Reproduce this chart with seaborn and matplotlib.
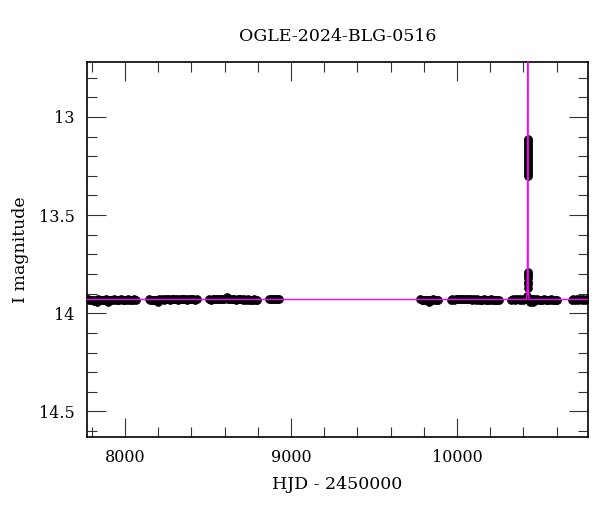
import numpy as np
import pandas as pd
import matplotlib
matplotlib.use("Agg")
import matplotlib.pyplot as plt
from matplotlib.ticker import MultipleLocator, FuncFormatter
import seaborn as sns

# OGLE photometry, one list per observing season (HJD - 2450000, I mag)
s1_hjd = [7776, 7786, 7796, 7806, 7816, 7826, 7836, 7846, 7856, 7866, 7876, 7886, 7896,
          7906, 7916, 7926, 7936, 7946, 7956, 7966, 7976, 7986, 7996, 8006, 8016, 8026,
          8036, 8046, 8056, 8066, 7830, 7900]
s1_mag = [13.928, 13.93, 13.932, 13.93, 13.935, 13.93, 13.928, 13.932, 13.93, 13.934, 13.93,
          13.928, 13.932, 13.93, 13.934, 13.93, 13.928, 13.93, 13.932, 13.93, 13.928, 13.93,
          13.932, 13.93, 13.928, 13.93, 13.932, 13.93, 13.928, 13.93, 13.945, 13.94]
s2_hjd = [8142, 8152, 8162, 8172, 8182, 8192, 8202, 8212, 8222, 8232, 8242, 8252, 8262,
          8272, 8282, 8292, 8302, 8312, 8322, 8332, 8342, 8352, 8362, 8372, 8382, 8392,
          8402, 8412, 8422, 8434, 8200]
s2_mag = [13.928, 13.93, 13.932, 13.93, 13.934, 13.93, 13.928, 13.93, 13.926, 13.93, 13.928,
          13.925, 13.928, 13.93, 13.925, 13.928, 13.926, 13.928, 13.93, 13.926, 13.928, 13.925,
          13.928, 13.93, 13.926, 13.928, 13.925, 13.928, 13.93, 13.928, 13.942]
s3_hjd = [8508, 8518, 8528, 8538, 8548, 8558, 8568, 8578, 8588, 8598, 8608, 8618, 8628,
          8638, 8648, 8658, 8668, 8678, 8688, 8698, 8708, 8718, 8728, 8738, 8748, 8758,
          8768, 8778, 8788, 8798, 8615]
s3_mag = [13.928, 13.93, 13.928, 13.926, 13.928, 13.925, 13.928, 13.926, 13.925, 13.926, 13.924,
          13.925, 13.926, 13.928, 13.926, 13.928, 13.93, 13.928, 13.926, 13.928, 13.93, 13.928,
          13.93, 13.928, 13.93, 13.932, 13.93, 13.928, 13.93, 13.93, 13.918]
s4_hjd = [8868, 8878, 8888, 8898, 8908, 8918, 8928]
s4_mag = [13.928, 13.926, 13.928, 13.926, 13.928, 13.926, 13.928]
s5_hjd = [9778, 9788, 9798, 9808, 9818, 9828, 9838, 9848, 9858, 9868, 9878, 9884, 9830]
s5_mag = [13.928, 13.93, 13.932, 13.93, 13.934, 13.93, 13.932, 13.93, 13.928, 13.93, 13.932,
          13.93, 13.942]
s6_hjd = [9962, 9972, 9982, 9992, 10002, 10012, 10022, 10032, 10042, 10052, 10062, 10072,
          10082, 10092, 10102, 10112, 10122, 10132, 10142, 10152, 10162, 10172, 10182,
          10192, 10202, 10212, 10222, 10232, 10242, 10250]
s6_mag = [13.93, 13.928, 13.93, 13.928, 13.926, 13.928, 13.926, 13.928, 13.925, 13.926, 13.928,
          13.926, 13.928, 13.93, 13.928, 13.93, 13.928, 13.93, 13.932, 13.93, 13.928, 13.93,
          13.932, 13.93, 13.928, 13.93, 13.932, 13.93, 13.932, 13.93]
s7_hjd = [10328, 10338, 10348, 10358, 10368, 10378, 10388, 10398, 10408, 10418, 10434,
          10444, 10454, 10464, 10474, 10484, 10494, 10504, 10514, 10524, 10534, 10544,
          10554, 10564, 10574, 10584, 10594, 10604, 10440, 10460]
s7_mag = [13.93, 13.928, 13.93, 13.926, 13.928, 13.93, 13.928, 13.93, 13.926, 13.928, 13.926,
          13.928, 13.926, 13.928, 13.93, 13.928, 13.93, 13.932, 13.93, 13.928, 13.93, 13.932,
          13.93, 13.928, 13.93, 13.932, 13.93, 13.93, 13.942, 13.945]
s8_hjd = [10690, 10700, 10710, 10720, 10730, 10740, 10750, 10760, 10770, 10780, 10786]
s8_mag = [13.93, 13.928, 13.93, 13.928, 13.93, 13.928, 13.93, 13.928, 13.93, 13.928, 13.93]
# the event itself
ev_hjd = [10426.0, 10426.0, 10426.1, 10426.1, 10426.1, 10426.2, 10426.2, 10426.2,
          10426.3, 10426.3, 10426.3, 10426.4, 10426.4, 10426.4, 10426.5, 10426.5,
          10426.5, 10426.6, 10426.6, 10426.6,
          10425.3, 10425.4, 10425.5, 10425.6, 10425.7, 10425.8, 10425.9, 10424.0,
          10424.5, 10425.0]
ev_mag = [13.12, 13.13, 13.14, 13.15, 13.16, 13.17, 13.18, 13.19, 13.20, 13.21, 13.22,
          13.23, 13.24, 13.25, 13.26, 13.27, 13.28, 13.29, 13.30, 13.11,
          13.79, 13.80, 13.81, 13.82, 13.84, 13.85, 13.87, 13.91, 13.915, 13.92]

# model light curve (magenta)
model_hjd = [7700, 10418, 10422, 10424, 10425, 10426, 10427, 10428, 10430, 10434, 10900]
model_mag = [13.93, 13.93, 13.9, 13.8, 13.6, 12.0, 13.6, 13.8, 13.9, 13.93, 13.93]

hjd = s1_hjd + s2_hjd + s3_hjd + s4_hjd + s5_hjd + s6_hjd + s7_hjd + s8_hjd + ev_hjd
mag = s1_mag + s2_mag + s3_mag + s4_mag + s5_mag + s6_mag + s7_mag + s8_mag + ev_mag
df = pd.DataFrame({"hjd": hjd, "mag": mag})
model = pd.DataFrame({"hjd": model_hjd, "mag": model_mag})

sns.set_style("white")
plt.rcParams["font.family"] = ["DejaVu Serif"]
plt.rcParams["text.color"] = "black"
plt.rcParams["axes.labelcolor"] = "black"
plt.rcParams["xtick.labelcolor"] = "black"
plt.rcParams["ytick.labelcolor"] = "black"

fig = plt.figure(figsize=(6, 5.12), dpi=100)
ax = fig.add_axes([0.145, 0.1465, 0.835, 0.7325])

sns.scatterplot(data=df, x="hjd", y="mag", ax=ax, color="black", s=32,
                edgecolor="black", linewidth=0.5, zorder=2)
sns.lineplot(data=model, x="hjd", y="mag", ax=ax, color="#ff00ff", lw=1.0,
             estimator=None, sort=False, zorder=3)

ax.set_xlim(7771, 10789)
ax.set_ylim(14.63, 12.72)

ax.xaxis.set_major_locator(MultipleLocator(1000))
ax.xaxis.set_minor_locator(MultipleLocator(200))
ax.yaxis.set_major_locator(MultipleLocator(0.5))
ax.yaxis.set_minor_locator(MultipleLocator(0.1))
ax.yaxis.set_major_formatter(FuncFormatter(lambda v, p: f"{v:g}"))

ax.tick_params(which="both", direction="in", top=True, right=True, bottom=True,
               left=True, labelsize=11.5, color="#333333", labelcolor="black",
               width=0.8, pad=9)
ax.tick_params(which="major", length=14)
ax.tick_params(which="minor", length=7)
for sp in ax.spines.values():
    sp.set_linewidth(1.2)
    sp.set_color("black")

ax.set_title("OGLE-2024-BLG-0516", fontsize=12.5, pad=15, color="black")
ax.set_xlabel("HJD - 2450000", fontsize=12.5, labelpad=7)
ax.set_ylabel("I magnitude", fontsize=12.5, labelpad=7)

fig.savefig("out.png", dpi=100)
